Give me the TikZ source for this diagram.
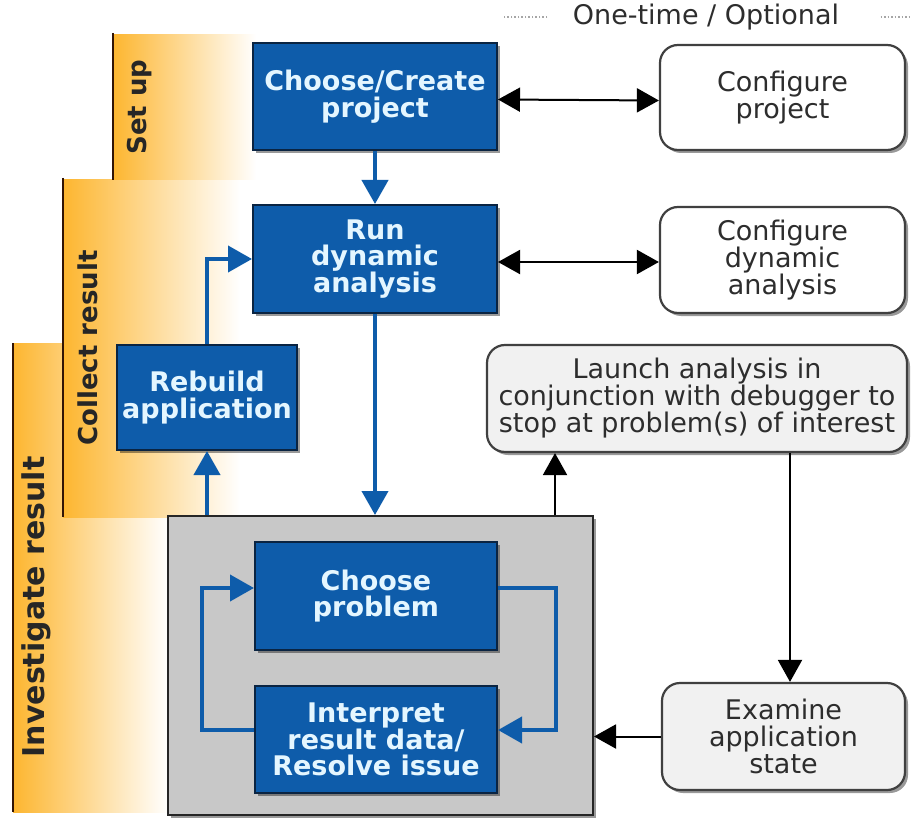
\documentclass[tikz,border=0pt]{standalone}
\usepackage{fontspec}
\setmainfont{DejaVu Sans}
\usetikzlibrary{arrows.meta,shadows}
\definecolor{boxblue}{RGB}{14,92,170}
\definecolor{boxedge}{RGB}{10,36,66}
\definecolor{boxtext}{RGB}{228,246,255}
\definecolor{bandorange}{RGB}{253,182,48}
\definecolor{bandline}{RGB}{50,20,5}
\definecolor{grayfill}{RGB}{200,200,200}
\definecolor{lightfill}{RGB}{241,241,241}
\definecolor{txtgray}{RGB}{45,45,45}
\begin{document}
\begin{tikzpicture}[x=1pt,y=-1pt,
  shadowed/.style={drop shadow={shadow xshift=3pt,shadow yshift=-3pt,opacity=0.4,fill=black}},
  bluebox/.style={shadowed,draw=boxedge,line width=2pt,fill=boxblue,text=boxtext,
    font=\fontsize{27}{26.5}\selectfont\bfseries,align=center,inner sep=0pt},
  optbox/.style={shadowed,draw=black!75,line width=2.2pt,fill=white,rounded corners=18pt,
    text=txtgray,font=\fontsize{27}{27}\selectfont,align=center,inner sep=0pt},
  bandtext/.style={rotate=90,text=black!85,font=\fontsize{26}{26}\selectfont\bfseries},
  bandedge/.style={draw=bandline,line width=2pt},
  bluearrow/.style={draw=boxblue,line width=4pt,-{Triangle[length=24pt,width=26pt]}},
  blackarrow/.style={draw=black,line width=2pt,-{Triangle[length=22pt,width=24pt]}},
  dblarrow/.style={draw=black,line width=2pt,{Triangle[length=22pt,width=24pt]}-{Triangle[length=22pt,width=24pt]}}
]
\useasboundingbox (0,0) rectangle (912,826);
\fill[white] (0,0) rectangle (912,826);

% bands
\shade[left color=bandorange,right color=white] (13,343) rectangle (168,812);
\draw[bandedge] (13,343) -- (13,812);
\node[bandtext,font=\fontsize{30}{30}\selectfont\bfseries] (invtxt) at (36,607) {Investigate result};

\shade[left color=bandorange,right color=white] (63,180) rectangle (240,517);
\draw[bandedge] (63,178) -- (63,517);
\node[bandtext] (coltxt) at (88,348) {Collect result};

\shade[left color=bandorange,right color=white] (113,35) rectangle (256,180);
\draw[bandedge] (113,33) -- (113,180);
\node[bandtext] (setuptxt) at (140,107) {Set up};

% header
\node[text=txtgray,font=\fontsize{27}{27}\selectfont] (hdr) at (706,17) {One-time / Optional};
\coordinate (hdrend) at (912,17);
\draw[gray!70,dotted,line width=1.5pt] ([xshift=-22pt]hdr.west) -- ++(-45,0);
\draw[gray!70,dotted,line width=1.5pt] ([xshift=38pt]hdr.east) -- (hdrend);

% main boxes
\node[bluebox,minimum width=244pt,minimum height=107pt] (choose) at (375,96.5) {Choose/Create\\project};
\node[bluebox,minimum width=244pt,minimum height=108pt] (run) at (375,259) {Run\\dynamic\\analysis};
\node[optbox,minimum width=245pt,minimum height=105pt] (cfgproj) at (782.5,97.5) {Configure\\project};
\node[optbox,minimum width=245pt,minimum height=106pt] (cfgdyn) at (782.5,260) {Configure\\dynamic\\analysis};
\node[bluebox,minimum width=180pt,minimum height=105pt] (rebuild) at (207,397.5) {Rebuild\\application};
\node[optbox,fill=lightfill,minimum width=420pt,minimum height=107pt] (launch) at (697,398.5)
  {Launch analysis in\\conjunction with debugger to\\stop at problem(s) of interest};
\node[shadowed,draw=black!85,line width=2pt,fill=grayfill,minimum width=425pt,minimum height=299pt] (gray) at (380.5,665.5) {};
\node[bluebox,minimum width=242pt,minimum height=108pt] (cp) at (376,596) {Choose\\problem};
\node[bluebox,minimum width=242pt,minimum height=107pt] (ip) at (376,739.5) {Interpret\\result data/\\Resolve issue};
\node[optbox,fill=lightfill,minimum width=243pt,minimum height=107pt] (exam) at (783.5,736.5) {Examine\\application\\state};

% helper x positions
\coordinate (xl) at (555,0);
\coordinate (xr) at (790,0);

% connectors
\draw[bluearrow] (choose.south) -- (run.north);
\draw[dblarrow] ([yshift=-3pt]choose.east) -- ([yshift=-3pt]cfgproj.west);
\draw[dblarrow] ([yshift=-3pt]run.east) -- ([yshift=-2pt]cfgdyn.west);
\draw[bluearrow] (run.south) -- (gray.north -| run.south);
\draw[bluearrow] (gray.north -| rebuild.south) -- (rebuild.south);
\draw[bluearrow] (rebuild.north) |- (run.west);
\draw[blackarrow] (gray.north -| xl) -- (launch.south -| xl);
\draw[blackarrow] (launch.south -| xr) -- (exam.north -| xr);
\draw[blackarrow] (exam.west) -- (gray.east |- exam.west);

% loop inside gray box
\draw[bluearrow] ([yshift=8pt]cp.east) -- ++(58,0) |- ([yshift=9.5pt]ip.east);
\draw[bluearrow] ([yshift=9.5pt]ip.west) -- ++(-52,0) |- ([yshift=8pt]cp.west);
\end{tikzpicture}
\end{document}
